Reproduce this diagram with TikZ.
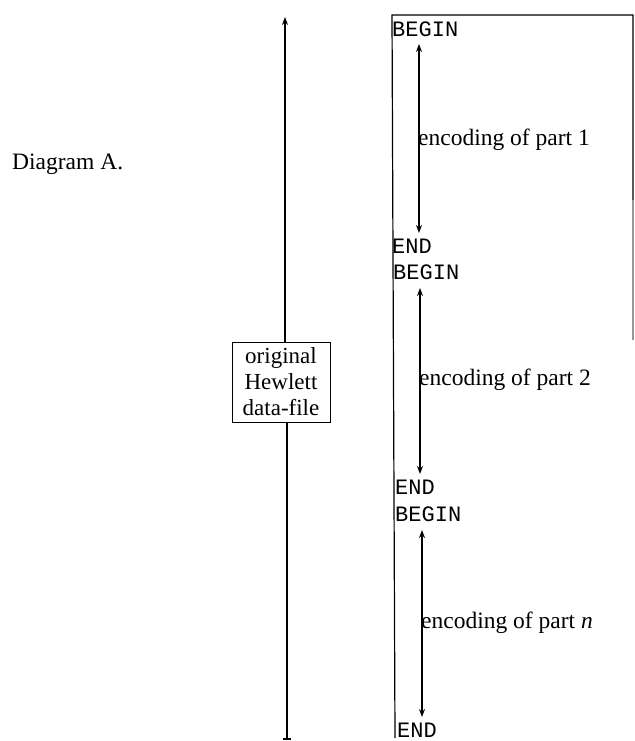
\documentclass[tikz,border=0pt]{standalone}
\usepackage{fontspec}
\setmainfont{Liberation Serif}
\setmonofont{Liberation Mono}
\usetikzlibrary{arrows.meta}
\begin{document}
\begin{tikzpicture}[x=1pt,y=-1pt,
  kw/.style={font=\ttfamily\fontsize{22}{22}\selectfont, anchor=west, inner sep=0pt},
  lbl/.style={font=\fontsize{23.5}{26}\selectfont, anchor=west, inner sep=0pt},
  dbl/.style={{Stealth[length=8pt,width=6pt]}-{Stealth[length=8pt,width=6pt]}, line width=1.3pt},
  frameline/.style={line width=1.2pt}]
\useasboundingbox (0,0) rectangle (634,741);

% title
\node[lbl] (title) at (12,164) {Diagram A.};

% central file column
\node[draw, line width=1pt, font=\fontsize{23}{26}\selectfont, align=center,
      minimum width=98pt, minimum height=80pt, inner sep=2pt] (box) at (281,382)
      {original\\Hewlett\\data-file};
\coordinate (topend) at (285,17);
\coordinate (botend) at (287,738);
\draw[line width=1.1pt, -{Stealth[length=8pt,width=6pt]}] (box.north -| topend) -- (topend);
\draw[line width=1.1pt] (box.south -| botend) -- (botend);
\draw[line width=2.2pt] (283,739) -- (291,739);

% frame
\coordinate (ftl) at (392,15);
\coordinate (ftr) at (633,15);
\coordinate (fbl) at (395,738);
\coordinate (fr1) at (633,200);
\coordinate (fr2) at (633,340);
\draw[frameline] (fbl) -- (ftl) -- (ftr) -- (fr1);
\draw[frameline, black!40] (fr1) -- (fr2);

% BEGIN / END markers
\node[kw] (b1) at (392,29) {BEGIN};
\node[kw] (e1) at (392,246) {END};
\node[kw] (b2) at (393,272) {BEGIN};
\node[kw] (e2) at (395,487) {END};
\node[kw] (b3) at (395,514) {BEGIN};
\node[kw] (e3) at (397,730) {END};

% arrows
\coordinate (a1s) at (419,44);
\coordinate (a1e) at (419,233);
\coordinate (a2s) at (420,288);
\coordinate (a2e) at (420,474);
\coordinate (a3s) at (422,530);
\coordinate (a3e) at (422,717);
\draw[dbl] (a1s) -- (a1e);
\draw[dbl] (a2s) -- (a2e);
\draw[dbl] (a3s) -- (a3e);

% labels
\node[lbl] (l1) at (418,140) {encoding of part 1};
\node[lbl] (l2) at (419,380) {encoding of part 2};
\node[lbl] (l3) at (421,623) {encoding of part \textit{n}};
\end{tikzpicture}
\end{document}
